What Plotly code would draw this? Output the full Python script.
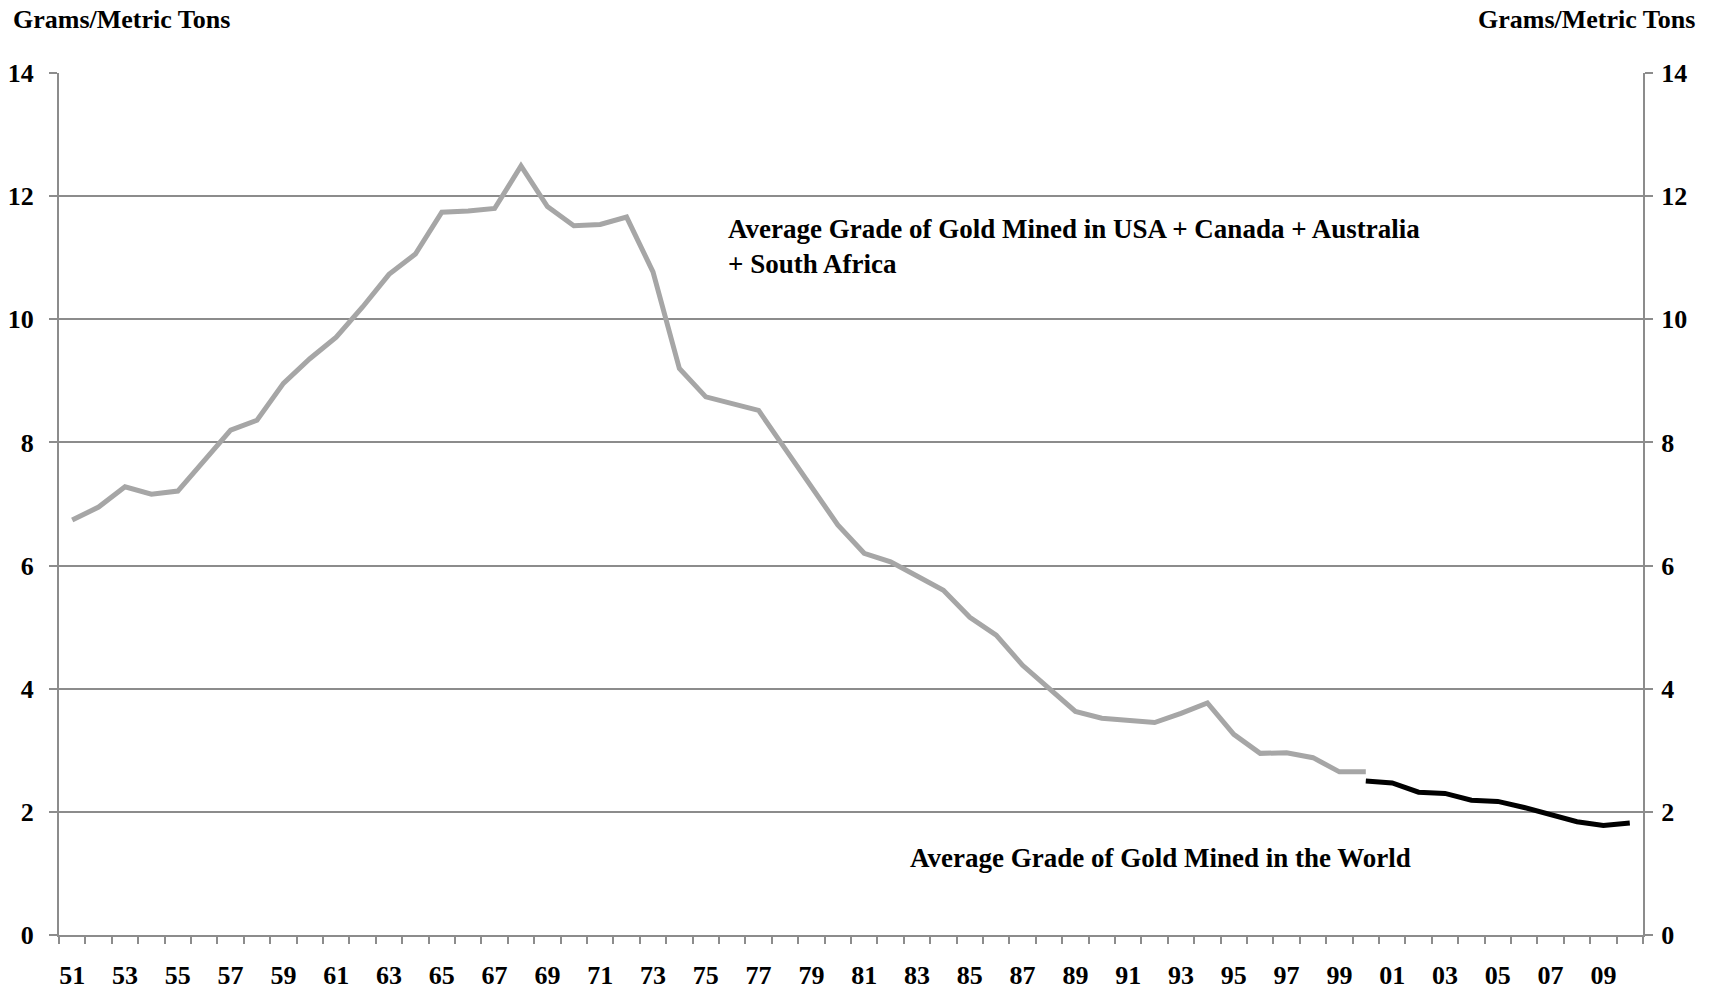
import plotly.graph_objects as go

years_region = list(range(1951, 2001))
grade_region = [6.74, 6.95, 7.28, 7.16, 7.21, 7.72, 8.20, 8.36, 8.96, 9.36,
                9.71, 10.20, 10.73, 11.06, 11.74, 11.76, 11.80, 12.49, 11.83, 11.52,
                11.54, 11.66, 10.77, 9.20, 8.74, 8.63, 8.52, 7.90, 7.28, 6.66,
                6.20, 6.06, 5.83, 5.60, 5.16, 4.87, 4.38, 4.00, 3.63, 3.52,
                3.49, 3.45, 3.60, 3.77, 3.26, 2.95, 2.96, 2.88, 2.65, 2.65]

years_world = list(range(2000, 2011))
grade_world = [2.50, 2.47, 2.32, 2.30, 2.19, 2.17, 2.07, 1.96, 1.84, 1.78, 1.82]

tick_years = list(range(1951, 2011, 2))
tick_text = [str(y)[-2:] for y in tick_years]
y_ticks = [0, 2, 4, 6, 8, 10, 12, 14]

FONT = "Liberation Serif"
GRID = "#8c8c8c"

fig = go.Figure()
fig.add_trace(go.Scatter(x=years_region, y=grade_region, mode="lines",
                         line=dict(color="#a6a6a6", width=5), showlegend=False))
fig.add_trace(go.Scatter(x=years_world, y=grade_world, mode="lines", yaxis="y2",
                         line=dict(color="#000000", width=5), showlegend=False))

tickfont = dict(family=FONT, size=26, color="#000000", weight="bold")

fig.update_layout(
    width=1713, height=990,
    margin=dict(l=59, r=70, t=73, b=55),
    paper_bgcolor="white", plot_bgcolor="white",
    xaxis=dict(range=[1950.5, 2010.5], tickmode="array", tickvals=tick_years,
               ticktext=tick_text, ticks="", showgrid=False, zeroline=False,
               showline=True, linecolor=GRID, linewidth=2, automargin=False,
               tickfont=tickfont, ticklabelstandoff=16,
               minor=dict(tickmode="linear", tick0=1950.5, dtick=1, ticks="outside",
                          ticklen=7, tickwidth=1.5, tickcolor=GRID, showgrid=False)),
    yaxis=dict(range=[0, 14], tickmode="array", tickvals=y_ticks,
               showgrid=True, gridcolor=GRID, gridwidth=1.5, zeroline=False,
               showline=True, linecolor=GRID, linewidth=2, automargin=False,
               ticks="outside", ticklen=8, tickwidth=1.5, tickcolor=GRID,
               tickfont=tickfont, ticklabelstandoff=10),
    yaxis2=dict(range=[0, 14], tickmode="array", tickvals=y_ticks, overlaying="y",
                side="right", showgrid=False, zeroline=False, automargin=False,
                showline=True, linecolor=GRID, linewidth=2,
                ticks="outside", ticklen=8, tickwidth=1.5, tickcolor=GRID,
                tickfont=tickfont, ticklabelstandoff=3),
)

annfont = dict(family=FONT, size=27, color="#000000", weight="bold")
fig.add_annotation(xref="paper", yref="paper", x=0.421, y=0.7993,
                   xanchor="left", yanchor="middle", align="left", showarrow=False,
                   text="Average Grade of Gold Mined in USA + Canada + Australia<br>+ South Africa",
                   font=annfont)
fig.add_annotation(xref="paper", yref="paper", x=0.536, y=0.0898,
                   xanchor="left", yanchor="middle", showarrow=False,
                   text="Average Grade of Gold Mined in the World", font=annfont)
titlefont = dict(family=FONT, size=26, color="#000000", weight="bold")
fig.add_annotation(xref="paper", yref="paper", x=-0.0303, y=1.0615,
                   xanchor="left", yanchor="middle", showarrow=False,
                   text="Grams/Metric Tons", font=titlefont)
fig.add_annotation(xref="paper", yref="paper", x=1.034, y=1.0615,
                   xanchor="right", yanchor="middle", showarrow=False,
                   text="Grams/Metric Tons", font=titlefont)

fig.write_html("out.html", config={"displayModeBar": False},
               post_script="document.body.style.margin='0px';")
